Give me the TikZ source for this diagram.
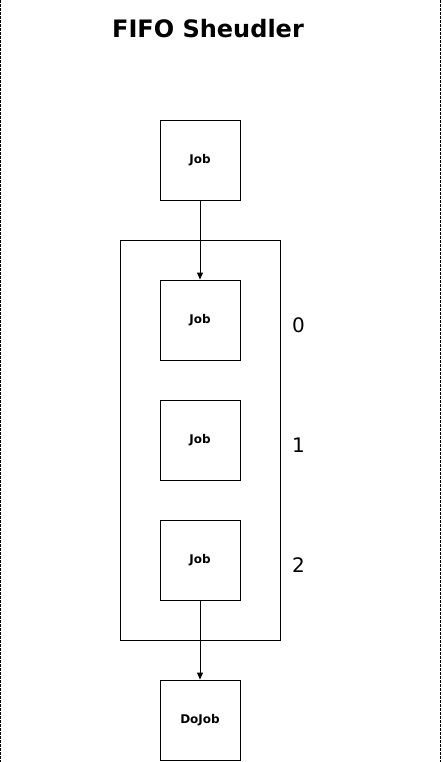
\documentclass[tikz,border=0pt]{standalone}
\usepackage{fontspec}
\setmainfont{DejaVu Sans}
\usetikzlibrary{arrows.meta}
\begin{document}
\begin{tikzpicture}[x=1pt,y=-1pt,
  jobbox/.style={draw,line width=0.9pt,minimum width=80pt,minimum height=80pt,inner sep=0pt,font=\bfseries\fontsize{12}{14}\selectfont},
  frame/.style={draw,line width=0.9pt},
  idx/.style={font=\fontsize{20}{22}\selectfont},
  conn/.style={line width=0.9pt,-{Triangle[length=7pt,width=6pt]}},
  side/.style={line width=0.8pt,dash pattern=on 3pt off 1pt}]
\useasboundingbox (0,0) rectangle (442,762);
\coordinate (tl) at (0.5,0);
\coordinate (bl) at (0.5,762);
\coordinate (tr) at (440.5,0);
\coordinate (br) at (440.5,762);
\draw[side] (tl) -- (bl);
\draw[side] (tr) -- (br);
\node[font=\bfseries\fontsize{24}{26}\selectfont] (title) at (208,29) {FIFO Sheudler};
\node[frame,minimum width=160pt,minimum height=400pt,inner sep=0pt] (queue) at (200,440) {};
\node[jobbox] (job) at (200,160) {\raisebox{-1pt}{Job}};
\node[jobbox] (q0) at (200,320) {\raisebox{-1pt}{Job}};
\node[jobbox] (q1) at (200,440) {\raisebox{-1pt}{Job}};
\node[jobbox] (q2) at (200,560) {\raisebox{-1pt}{Job}};
\node[jobbox] (dojob) at (200,720) {\raisebox{-1pt}{DoJob}};
\node[idx] (l0) at (298.5,325) {0};
\node[idx] (l1) at (298.5,445) {1};
\node[idx] (l2) at (298.5,565) {2};
\draw[conn] (job) -- (q0);
\draw[conn] (q2) -- (dojob);
\end{tikzpicture}
\end{document}
